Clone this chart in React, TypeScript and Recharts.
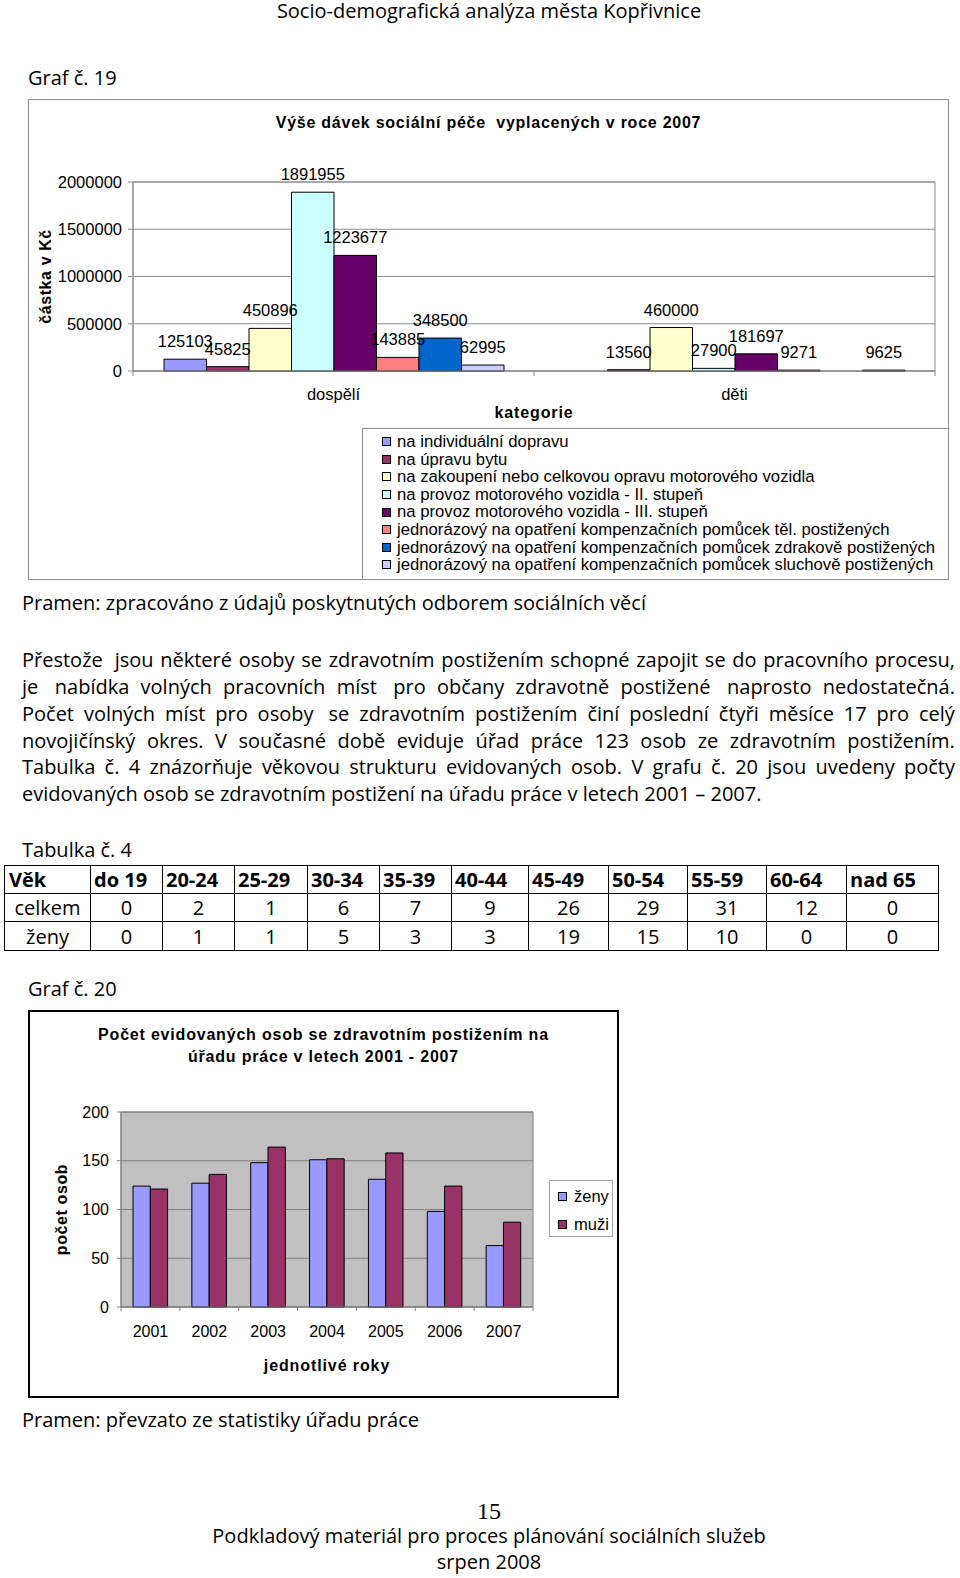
import React from 'react';
import { BarChart, Bar, XAxis, YAxis, CartesianGrid, Legend, LabelList, ReferenceArea } from 'recharts';

const FONT_CHART = '"Liberation Sans", Arial, Helvetica, sans-serif';
const FONT_PAGE = '"Open Sans", "Noto Sans", sans-serif';
const FONT_SERIF = '"Liberation Serif", "Times New Roman", serif';

// ---------- Graf č. 19 ----------
const groups19 = ['dospělí', 'děti'];
const seriesNames19 = [
  'na individuální dopravu',
  'na úpravu bytu',
  'na zakoupení nebo celkovou opravu motorového vozidla',
  'na provoz motorového vozidla - II. stupeň',
  'na provoz motorového vozidla - III. stupeň',
  'jednorázový na opatření kompenzačních pomůcek těl. postižených',
  'jednorázový na opatření kompenzačních pomůcek zdrakově postižených',
  'jednorázový na opatření kompenzačních pomůcek sluchově postižených',
];
const individualniDoprava: (number | null)[] = [125103, null];
const upravaBytu: (number | null)[] = [45825, 13560];
const zakoupeniVozidla: (number | null)[] = [450896, 460000];
const provozII: (number | null)[] = [1891955, 27900];
const provozIII: (number | null)[] = [1223677, 181697];
const pomuckyTelesne: (number | null)[] = [143885, 9271];
const pomuckyZrakove: (number | null)[] = [348500, null];
const pomuckySluchove: (number | null)[] = [62995, 9625];
const yTicks19 = [0, 500000, 1000000, 1500000, 2000000];
const colors19 = ['#9999ff', '#993366', '#ffffcc', '#ccffff', '#660066', '#ff8080', '#0066cc', '#ccccff'];

const seriesValues19 = [
  individualniDoprava, upravaBytu, zakoupeniVozidla, provozII,
  provozIII, pomuckyTelesne, pomuckyZrakove, pomuckySluchove,
];
const seriesKeys19 = seriesValues19.map((_, i) => `s${i}`);
const data19 = groups19.map((g, gi) => {
  const row: any = { kategorie: g };
  seriesValues19.forEach((vals, si) => { row[seriesKeys19[si]] = vals[gi]; });
  return row;
});

// ---------- Graf č. 20 ----------
const years20 = ['2001', '2002', '2003', '2004', '2005', '2006', '2007'];
const zeny20 = [124, 127, 148, 151, 131, 98, 63];
const muzi20 = [121, 136, 164, 152, 158, 124, 87];
const yTicks20 = [0, 50, 100, 150, 200];
const data20 = years20.map((r, i) => ({ rok: r, zeny: zeny20[i], muzi: muzi20[i] }));
const keys20 = ['zeny', 'muzi'];

// ---------- Tabulka č. 4 ----------
const tableHead = ['Věk', 'do 19', '20-24', '25-29', '30-34', '35-39', '40-44', '45-49', '50-54', '55-59', '60-64', 'nad 65'];
const tableCelkem = [0, 2, 1, 6, 7, 9, 26, 29, 31, 12, 0];
const tableZeny = [0, 1, 1, 5, 3, 3, 19, 15, 10, 0, 0];

const paragraphLines = [
  'Přestože  jsou některé osoby se zdravotním postižením schopné zapojit se do pracovního procesu,',
  'je  nabídka volných pracovních míst  pro občany zdravotně postižené  naprosto nedostatečná.',
  'Počet volných míst pro osoby  se zdravotním postižením činí poslední čtyři měsíce 17 pro celý',
  'novojičínský okres. V současné době eviduje úřad práce 123 osob ze zdravotním postižením.',
  'Tabulka č. 4 znázorňuje věkovou strukturu evidovaných osob. V grafu č. 20 jsou uvedeny počty',
  'evidovaných osob se zdravotním postižení na úřadu práce v letech 2001 – 2007.',
];

// ---------- helpers ----------
function PText(props: any) {
  const { x, cx, baseline, size = 20, weight = 400, family = FONT_PAGE, ad = 0.776, lhf = 1.4, children } = props;
  const lh = Math.round(size * lhf);
  const top = baseline - lh / 2 - (ad * size) / 2;
  const style: React.CSSProperties = {
    position: 'absolute', top, height: lh, lineHeight: `${lh}px`, fontFamily: family,
    fontSize: size, fontWeight: weight, color: '#000', whiteSpace: 'pre',
  };
  if (cx !== undefined) { style.left = cx - 400; style.width = 800; style.textAlign = 'center'; }
  else style.left = x;
  return <div style={style}>{children}</div>;
}

function JustLine({ text, baseline, last }: any) {
  const size = 20;
  const lh = 28;
  const top = baseline - lh / 2 - (0.776 * size) / 2;
  const base: React.CSSProperties = {
    position: 'absolute', left: 22, top, height: lh, lineHeight: `${lh}px`,
    fontFamily: FONT_PAGE, fontSize: size, color: '#000', whiteSpace: 'pre',
  };
  if (last) return <div style={base}>{text}</div>;
  const tokens: string[] = [];
  text.split(' ').forEach((t: string) => {
    if (t === '' && tokens.length) tokens[tokens.length - 1] += ' ';
    else tokens.push(t);
  });
  return (
    <div style={{ ...base, width: 933, display: 'flex', justifyContent: 'space-between' }}>
      {tokens.map((t, i) => <span key={i}>{t}</span>)}
    </div>
  );
}

function CatTick(props: any) {
  const { x, y, payload, index, visibleTicksCount, width, bOff, fs, mark } = props;
  let half = 0;
  if (payload && typeof payload.offset === 'number' && payload.offset > 0) half = payload.offset;
  else if (width && visibleTicksCount) half = width / visibleTicksCount / 2;
  const isLast = index === visibleTicksCount - 1;
  return (
    <g>
      {half > 0 && <line x1={x - half} x2={x - half} y1={y} y2={y + mark} stroke="#808080" />}
      {half > 0 && isLast && <line x1={x + half} x2={x + half} y1={y} y2={y + mark} stroke="#808080" />}
      <text x={x} y={y + bOff} textAnchor="middle" fill="#000" fontSize={fs} fontFamily={FONT_CHART}>
        {payload.value}
      </text>
    </g>
  );
}

const yTitle = (text: string, dx: number) => (p: any) => {
  const vb = p.viewBox || {};
  const cx = (vb.x ?? 0) + dx;
  const cy = (vb.y ?? 0) + (vb.height ?? 0) / 2;
  return (
    <text x={cx} y={cy} dy="0.35em" transform={`rotate(-90 ${cx} ${cy})`} textAnchor="middle"
      fontWeight="bold" fontSize={16} fontFamily={FONT_CHART} fill="#000" letterSpacing={0.6}>
      {text}
    </text>
  );
};

const xTitle = (text: string, off: number) => (p: any) => {
  const vb = p.viewBox || {};
  return (
    <text x={(vb.x ?? 0) + (vb.width ?? 0) / 2} y={(vb.y ?? 0) + off} textAnchor="middle"
      fontWeight="bold" fontSize={16} fontFamily={FONT_CHART} fill="#000" letterSpacing={0.9}>
      {text}
    </text>
  );
};

function Legend19(props: any) {
  const items = [...(props.payload || [])].sort(
    (a: any, b: any) => seriesKeys19.indexOf(a.dataKey) - seriesKeys19.indexOf(b.dataKey));
  return (
    <div style={{
      width: 587, height: 152, boxSizing: 'border-box', borderTop: '1px solid #8c8c8c',
      borderLeft: '1px solid #8c8c8c', paddingTop: 4, fontFamily: FONT_CHART, fontSize: 16.7,
      color: '#000', lineHeight: '17.6px', textAlign: 'left',
    }}>
      {items.map((it: any) => (
        <div key={it.dataKey} style={{ display: 'flex', alignItems: 'center', height: 17.6, paddingLeft: 19, whiteSpace: 'nowrap' }}>
          <span style={{ display: 'inline-block', width: 9, height: 9, boxSizing: 'border-box', border: '1px solid #000', background: it.color || (it.payload && it.payload.fill), marginRight: 6, flex: 'none' }} />
          <span>{it.value}</span>
        </div>
      ))}
    </div>
  );
}

function Legend20(props: any) {
  const items = [...(props.payload || [])].sort(
    (a: any, b: any) => keys20.indexOf(a.dataKey) - keys20.indexOf(b.dataKey));
  return (
    <div style={{
      width: 64, height: 57, boxSizing: 'border-box', border: '1px solid #a0a0a0', background: '#fff',
      paddingTop: 1, fontFamily: FONT_CHART, fontSize: 16.5, color: '#000', textAlign: 'left',
    }}>
      {items.map((it: any) => (
        <div key={it.dataKey} style={{ display: 'flex', alignItems: 'center', height: 28, paddingLeft: 8, whiteSpace: 'nowrap' }}>
          <span style={{ display: 'inline-block', width: 9, height: 9, boxSizing: 'border-box', border: '1px solid #000', background: it.color || (it.payload && it.payload.fill), marginRight: 7, flex: 'none' }} />
          <span>{it.value}</span>
        </div>
      ))}
    </div>
  );
}

function Chart19() {
  const W = 921, H = 481;
  return (
    <div style={{ position: 'absolute', left: 28, top: 99, width: W, height: H }}>
      <div style={{ position: 'absolute', left: 0, top: 0, width: W, height: H, boxSizing: 'border-box', border: '1px solid #8c8c8c' }} />
      <div style={{
        position: 'absolute', left: 0, top: 13, width: W, textAlign: 'center', lineHeight: '22px',
        fontFamily: FONT_CHART, fontWeight: 'bold', fontSize: 16, letterSpacing: 0.75, whiteSpace: 'pre', color: '#000',
      }}>
        {'Výše dávek sociální péče  vyplacených v roce 2007'}
      </div>
      <BarChart width={W} height={H} data={data19} margin={{ top: 83, right: 14, left: 0, bottom: 169 }}
        barGap={0} barSize={42.5} barCategoryGap="7.6%">
        <CartesianGrid vertical={false} stroke="#8c8c8c" />
        <ReferenceArea x1={groups19[0]} x2={groups19[groups19.length - 1]} y1={0} y2={yTicks19[yTicks19.length - 1]}
          fill="none" fillOpacity={0} stroke="#8c8c8c" />
        <XAxis dataKey="kategorie" height={40} tickSize={0} tickMargin={0} tickLine={false}
          axisLine={{ stroke: '#8c8c8c' }} tick={<CatTick bOff={29} fs={16.5} mark={5} />}
          label={xTitle('kategorie', 47)} />
        <YAxis width={105} domain={[0, 2000000]} ticks={yTicks19} interval={0} tickSize={5} tickMargin={6}
          tickFormatter={(v: number) => String(v)}
          tick={{ fill: '#000', fontSize: 16.5, fontFamily: FONT_CHART }}
          axisLine={{ stroke: '#8c8c8c' }} tickLine={{ stroke: '#8c8c8c' }}
          label={yTitle('částka v Kč', 17)} />
        <Legend layout="vertical" align="center" verticalAlign="middle"
          wrapperStyle={{ left: 334, top: 329, width: 587, height: 152 }} content={<Legend19 />} />
        {seriesKeys19.map((k, i) => (
          <Bar key={k} dataKey={k} name={seriesNames19[i]} fill={colors19[i]} stroke="#000" strokeWidth={1}
            isAnimationActive={false}>
            <LabelList dataKey={k} position="top" offset={12} fill="#000" fontSize={16.5} fontFamily={FONT_CHART} />
          </Bar>
        ))}
      </BarChart>
    </div>
  );
}

function Chart20() {
  const W = 591, H = 388;
  return (
    <div style={{ position: 'absolute', left: 28, top: 1010, width: W, height: H }}>
      <div style={{ position: 'absolute', left: 0, top: 0, width: W, height: H, boxSizing: 'border-box', border: '2px solid #000' }} />
      <div style={{
        position: 'absolute', left: 0, top: 14, width: W, textAlign: 'center', lineHeight: '22px',
        fontFamily: FONT_CHART, fontWeight: 'bold', fontSize: 16, letterSpacing: 0.8, color: '#000',
      }}>
        Počet evidovaných osob se zdravotním postižením na<br />úřadu práce v letech 2001 - 2007
      </div>
      <BarChart width={W} height={H} data={data20} margin={{ top: 102, right: 86, left: 0, bottom: 61 }}
        barGap={0} barSize={17.3} barCategoryGap="20.7%">
        <CartesianGrid vertical={false} stroke="#808080" fill="#c0c0c0" fillOpacity={1} />
        <ReferenceArea x1={years20[0]} x2={years20[years20.length - 1]} y1={0} y2={yTicks20[yTicks20.length - 1]}
          fill="none" fillOpacity={0} stroke="#808080" />
        <XAxis dataKey="rok" height={30} tickSize={0} tickMargin={0} tickLine={false}
          axisLine={{ stroke: '#808080' }} tick={<CatTick bOff={30} fs={16} mark={4} />}
          label={xTitle('jednotlivé roky', 64)} />
        <YAxis width={93} domain={[0, 200]} ticks={yTicks20} interval={0} tickSize={4} tickMargin={8}
          tick={{ fill: '#000', fontSize: 16, fontFamily: FONT_CHART }}
          axisLine={{ stroke: '#808080' }} tickLine={{ stroke: '#808080' }}
          label={yTitle('počet osob', 33)} />
        <Legend layout="vertical" align="center" verticalAlign="middle"
          wrapperStyle={{ left: 521, top: 170, width: 64, height: 57 }} content={<Legend20 />} />
        <Bar dataKey="zeny" name="ženy" fill="#9999ff" stroke="#000" strokeWidth={1} isAnimationActive={false} />
        <Bar dataKey="muzi" name="muži" fill="#993366" stroke="#000" strokeWidth={1} isAnimationActive={false} />
      </BarChart>
    </div>
  );
}

const colWidths = [86, 72, 72, 73, 72, 72, 77, 80, 79, 79, 80, 92];

function AgeTable() {
  const rows: string[][] = [
    tableHead,
    ['celkem', ...tableCelkem.map(String)],
    ['ženy', ...tableZeny.map(String)],
  ];
  return (
    <div style={{
      position: 'absolute', left: 4, top: 865, display: 'grid',
      gridTemplateColumns: colWidths.map((w) => `${w}px`).join(' '), gridTemplateRows: '28px 28px 29px',
      borderTop: '1.5px solid #000', borderLeft: '1.5px solid #000', fontFamily: FONT_PAGE, fontSize: 20, color: '#000',
    }}>
      {rows.flatMap((r, ri) => r.map((c, ci) => (
        <div key={`${ri}-${ci}`} style={{
          boxSizing: 'border-box', borderRight: '1.5px solid #000', borderBottom: '1.5px solid #000',
          display: 'flex', alignItems: 'center', justifyContent: ri === 0 ? 'flex-start' : 'center',
          paddingLeft: ri === 0 ? (ci === 0 ? 4 : 3) : 0, fontWeight: ri === 0 ? 700 : 400,
          whiteSpace: 'nowrap', overflow: 'hidden',
        }}>{c}</div>
      )))}
    </div>
  );
}

export default function App() {
  return (
    <div style={{ position: 'absolute', left: 0, top: 0, width: 960, height: 1578, background: '#fff', overflow: 'hidden' }}>
      <PText cx={489} baseline={19} lhf={1.0}>Socio-demografická analýza města Kopřivnice</PText>
      <PText x={28} baseline={85.5}>Graf č. 19</PText>
      <Chart19 />
      <PText x={22} baseline={611}>Pramen: zpracováno z údajů poskytnutých odborem sociálních věcí</PText>
      {paragraphLines.map((t, i) => (
        <JustLine key={i} text={t} baseline={668 + i * 26.8} last={i === paragraphLines.length - 1} />
      ))}
      <PText x={22} baseline={858}>Tabulka č. 4</PText>
      <AgeTable />
      <PText x={28} baseline={997}>Graf č. 20</PText>
      <Chart20 />
      <PText x={22} baseline={1427.5}>Pramen: převzato ze statistiky úřadu práce</PText>
      <PText cx={489} baseline={1519} size={24} family={FONT_SERIF} ad={0.675}>15</PText>
      <PText cx={489} baseline={1544}>Podkladový materiál pro proces plánování sociálních služeb</PText>
      <PText cx={489} baseline={1570}>srpen 2008</PText>
    </div>
  );
}
